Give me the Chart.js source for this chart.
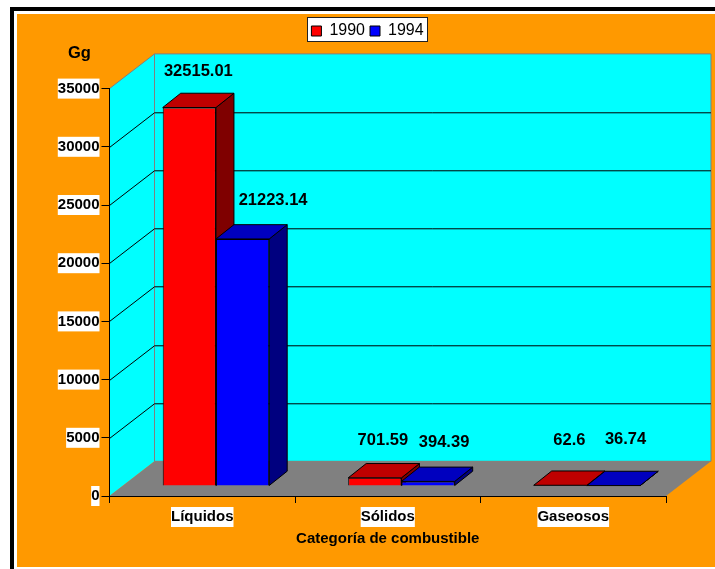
<!DOCTYPE html>
<html><head><meta charset="utf-8">
<style>html,body{margin:0;padding:0;background:#fff}canvas{display:block}</style>
<script src="https://cdn.jsdelivr.net/npm/chart.js@4"></script>
</head><body><canvas id="c" width="715" height="569"></canvas>
<script>
const categories = ['Líquidos', 'Sólidos', 'Gaseosos'];
const series1990 = [32515.01, 701.59, 62.6];
const series1994 = [21223.14, 394.39, 36.74];
const seriesNames = ['1990', '1994'];
const unitLabel = 'Gg';
const xTitle = 'Categoría de combustible';
const FONT = "'Liberation Sans', Arial, sans-serif";

const WALL = {dx: 45, dy: -34.7};
const BAR_PLANE = {dx: 13.7, dy: -10};
const BAR_DEPTH = {dx: 18, dy: -14.3};
const shades = [{top: '#bf0000', side: '#7f0000'}, {top: '#0000bf', side: '#00007f'}];
const labelNudges = [[[0, -21.7], [-1, -23.5], [0, -31]], [[21.5, -24], [7, -25], [3, -32]]];

function poly(ctx, pts, fill, stroke, lw) {
  ctx.beginPath();
  pts.forEach((p, i) => i ? ctx.lineTo(p[0], p[1]) : ctx.moveTo(p[0], p[1]));
  ctx.closePath();
  if (fill) { ctx.fillStyle = fill; ctx.fill(); }
  if (stroke) { ctx.strokeStyle = stroke; ctx.lineWidth = lw || 1; ctx.stroke(); }
}

const scene3d = {
  id: 'scene3d',
  afterLayout(chart) {
    chart.legend.left += 34.5; chart.legend.right += 34.5;
    chart.titleBlock.left = 68;
  },
  beforeDraw(chart) {
    const {ctx, chartArea: a, scales: {y}} = chart;
    ctx.save();
    ctx.fillStyle = '#fff'; ctx.fillRect(0, 0, 715, 569);
    ctx.fillStyle = '#000'; ctx.fillRect(10, 7, 705, 4); ctx.fillRect(10, 7, 4, 562);
    ctx.fillStyle = '#ff9900'; ctx.fillRect(17, 14, 698, 553);
    const l = a.left, r = a.right, t = a.top, b = a.bottom, dx = WALL.dx, dy = WALL.dy;
    poly(ctx, [[l, b], [l, t], [l + dx, t + dy], [l + dx, b + dy]], '#00ffff');
    poly(ctx, [[l + dx, t + dy], [r + dx, t + dy], [r + dx, b + dy], [l + dx, b + dy]], '#00ffff', '#808080');
    poly(ctx, [[l, b], [r, b], [r + dx, b + dy], [l + dx, b + dy]], '#808080');
    ctx.strokeStyle = '#808080'; ctx.lineWidth = 1;
    ctx.beginPath(); ctx.moveTo(l, t); ctx.lineTo(l + dx, t + dy); ctx.stroke();
    y.ticks.forEach(tk => {
      if (tk.value === 0 || tk.value === y.max) return;
      const py = Math.round(y.getPixelForValue(tk.value)) + 0.5;
      ctx.strokeStyle = '#000'; ctx.beginPath();
      ctx.moveTo(l, py); ctx.lineTo(l + dx, py + dy); ctx.lineTo(r + dx, py + dy); ctx.stroke();
    });
    ctx.fillStyle = '#fff'; ctx.strokeStyle = '#222'; ctx.lineWidth = 1;
    ctx.fillRect(307.5, 17.5, 120, 24); ctx.strokeRect(307.5, 17.5, 120, 24);
    ctx.restore();
  },
  beforeDatasetsDraw(chart) {
    const ctx = chart.ctx;
    ctx.save();
    ctx.translate(BAR_PLANE.dx, BAR_PLANE.dy);
    const d = BAR_DEPTH;
    chart.data.datasets.forEach((ds, i) => {
      const s = shades[i];
      chart.getDatasetMeta(i).data.forEach(el => {
        const {x, y, base, width} = el.getProps(['x', 'y', 'base', 'width'], true);
        const L = x - width / 2, R = x + width / 2;
        poly(ctx, [[R, y], [R + d.dx, y + d.dy], [R + d.dx, base + d.dy], [R, base]], s.side, '#000');
        poly(ctx, [[L, y], [L + d.dx, y + d.dy], [R + d.dx, y + d.dy], [R, y]], s.top, '#000');
      });
    });
  },
  afterDatasetsDraw(chart) {
    const ctx = chart.ctx;
    ctx.restore();
    ctx.save();
    ctx.font = 'bold 16.5px ' + FONT; ctx.fillStyle = '#000';
    ctx.textAlign = 'center'; ctx.textBaseline = 'middle';
    chart.data.datasets.forEach((ds, i) => {
      chart.getDatasetMeta(i).data.forEach((el, j) => {
        const n = labelNudges[i][j];
        ctx.fillText(String(ds.data[j]),
          el.x + BAR_PLANE.dx + BAR_DEPTH.dx / 2 + n[0],
          el.y + BAR_PLANE.dy + BAR_DEPTH.dy + n[1]);
      });
    });
    ctx.restore();
  }
};

new Chart(document.getElementById('c'), {
  type: 'bar',
  data: {
    labels: categories,
    datasets: [
      {label: seriesNames[0], data: series1990, backgroundColor: '#ff0000', borderColor: '#000', borderWidth: 1, clip: false},
      {label: seriesNames[1], data: series1994, backgroundColor: '#0000ff', borderColor: '#000', borderWidth: 1, clip: false}
    ]
  },
  options: {
    responsive: false, animation: false,
    categoryPercentage: 0.574, barPercentage: 1,
    layout: {padding: {left: 0, right: 49, top: 18, bottom: 0}},
    plugins: {
      tooltip: {enabled: false},
      title: {display: true, text: unitLabel, align: 'start', weight: 500, color: '#000',
        font: {family: FONT, size: 16.5, weight: 'bold', lineHeight: 1.2}, padding: {top: -5, bottom: 24.8}},
      legend: {display: true, position: 'top', weight: 1000,
        labels: {boxWidth: 10, boxHeight: 10, padding: 5, color: '#000', font: {family: FONT, size: 16}}}
    },
    scales: {
      x: {
        afterFit(s) { s.height = 73; },
        grid: {display: true, offset: true, drawOnChartArea: false, drawTicks: true, tickLength: 7, tickColor: '#000'},
        border: {display: true, color: '#000', width: 1},
        ticks: {color: '#000', padding: 5, maxRotation: 0, font: {family: FONT, size: 15, weight: 'bold'},
          showLabelBackdrop: true, backdropColor: '#fff', backdropPadding: {x: 0, y: 1}},
        title: {display: true, text: xTitle, color: '#000', font: {family: FONT, size: 15, weight: 'bold'}, padding: {top: 0, bottom: 21}}
      },
      y: {
        min: 0, max: 35000,
        afterFit(s) { s.width = 109.5; },
        grid: {display: true, drawOnChartArea: false, drawTicks: true, tickLength: 8, tickColor: '#000'},
        border: {display: true, color: '#000', width: 1},
        ticks: {stepSize: 5000, color: '#000', padding: 2, autoSkip: false, callback: v => String(v),
          font: {family: FONT, size: 15, weight: 'bold'},
          showLabelBackdrop: true, backdropColor: '#fff', backdropPadding: {x: 0, y: 1}}
      }
    }
  },
  plugins: [scene3d]
});
</script></body></html>
